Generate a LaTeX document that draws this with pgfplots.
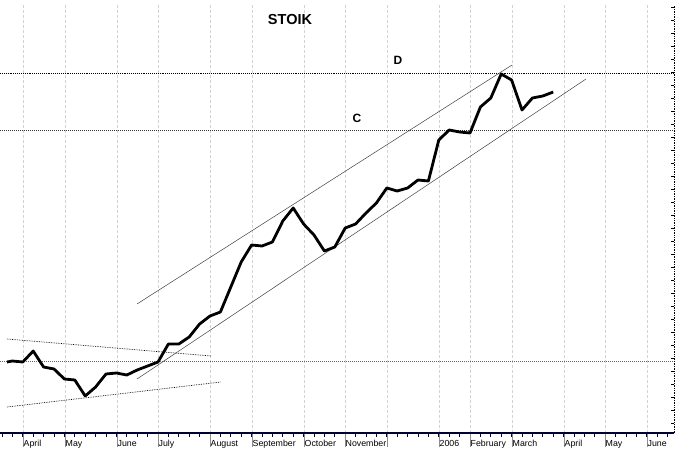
\documentclass[border=0pt]{standalone}
\usepackage{fontspec}
\setmainfont{Liberation Sans}
\usepackage{pgfplots}
\pgfplotsset{compat=1.18}
\begin{document}
\begin{tikzpicture}
\begin{axis}[
  x=1pt, y=1pt,
  xmin=0, xmax=674, ymin=15, ymax=443,
  axis x line=bottom, axis y line=none,
  x axis line style={-, line width=1.1pt, color=black!80!blue},
  xtick={23,65,117,158,210,252,304,345,387,439,470,512,564,605,647},
  xticklabels={April,May,June,July,August,September,October,November,{},2006,February,March,April,May,June},
  minor xtick={2,12.4,...,674},
  xtick align=outside,
  major tick length=14pt,
  minor tick length=4pt,
  every major x tick/.style={gray!90, line width=0.7pt},
  every minor x tick/.style={black!70!blue, line width=0.7pt},
  xticklabel style={font=\fontsize{8.8}{10}\selectfont, anchor=base west, inner sep=0pt, xshift=0.5pt, yshift=1pt},
  xmajorgrids=true,
  major grid style={densely dashed, gray!35, line width=0.6pt},
  ytick=\empty,
  clip=false,
]
% horizontal resistance / support levels
\addplot[black, densely dotted, line width=0.9pt] coordinates {(0,375) (674,375)};
\addplot[black!80, densely dotted, line width=1.0pt] coordinates {(0,318) (674,318)};
\addplot[gray!80!black, densely dotted, line width=1.0pt] coordinates {(0,87) (674,87)};
% channel lines
\addplot[black!75, line width=0.5pt] coordinates {(137,144) (512,383)};
\addplot[black!75, line width=0.5pt] coordinates {(137,69) (586,369)};
% triangle lines
\addplot[black, densely dotted, line width=0.7pt] coordinates {(7,109) (211,92)};
\addplot[black, densely dotted, line width=0.7pt] coordinates {(7,41) (221,66)};
% price
\addplot[black, line width=2.8pt, line join=round] coordinates {
(7,86) (12.4,87) (22.8,86) (33.2,97) (43.6,81) (54,79) (64.4,69) (74.8,68)
(85.2,52) (95.6,61) (106,74) (116.4,75) (126.8,73) (137.2,78) (147.6,82)
(158,86) (168.4,104) (178.8,104) (189.2,111) (199.6,124) (210,132)
(220.4,136) (230.8,161) (241.2,186) (251.6,203) (262,202) (272.4,206)
(282.8,227) (293.2,240) (303.6,224) (314,213) (324.4,197) (334.8,201)
(345.2,220) (355.6,224) (366,235) (376.4,245) (386.8,260) (397.2,257)
(407.6,260) (418,268) (428.4,267) (438.8,308) (449.2,318) (459.6,316)
(470,315) (480.4,341) (490.8,350) (501.2,374) (511.6,368) (522,338)
(532.4,350) (542.8,352) (553.2,356)};
\node[font=\fontsize{14.5}{16}\bfseries] at (axis cs:290,428) {STOIK};
\node[font=\fontsize{12}{14}\bfseries] at (axis cs:398,388) {D};
\node[font=\fontsize{12}{14}\bfseries] at (axis cs:357,330) {C};
\coordinate (bl) at (axis cs:0,0);
\coordinate (tr) at (axis cs:675,448);
\end{axis}
\begin{axis}[
  x=1pt, y=1pt,
  xmin=0, xmax=674, ymin=15, ymax=443,
  axis x line=none, axis y line=right,
  y axis line style={-, densely dotted, line width=0.7pt},
  ytick={25,38,...,440},
  yticklabels={},
  ytick align=inside,
  major tick length=3pt,
  every major y tick/.style={black, line width=0.6pt},
  xtick=\empty,
]
\end{axis}
\pgfresetboundingbox
\path[use as bounding box] (bl) rectangle (tr);
\end{tikzpicture}
\end{document}
